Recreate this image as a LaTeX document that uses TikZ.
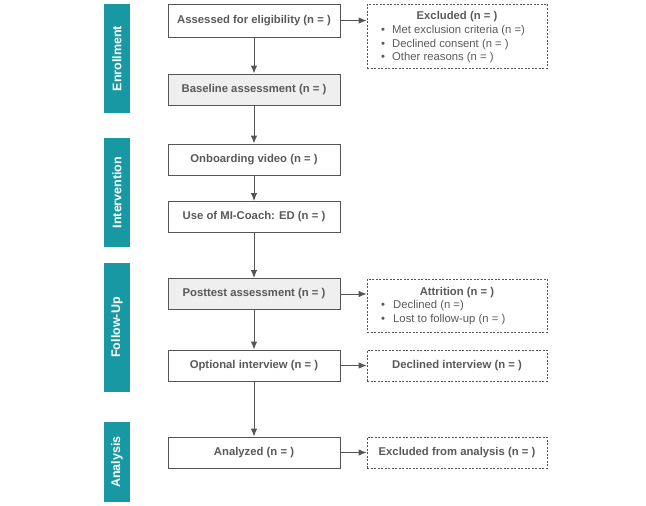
\documentclass[tikz,border=0pt]{standalone}
\usepackage{fontspec}
\setmainfont{Liberation Sans}
\usetikzlibrary{arrows.meta}
\definecolor{teal1}{HTML}{1798A3}
\definecolor{txt}{HTML}{595959}
\definecolor{ln}{HTML}{555555}
\definecolor{gfill}{HTML}{EFEFEF}
\tikzset{
  side/.style={fill=teal1, draw=none, minimum height=26pt, inner sep=0pt, text=white, font=\bfseries\fontsize{12.5}{14}\selectfont, rotate=90},
  mainbox/.style={draw=ln, line width=0.9pt, minimum width=172pt, minimum height=31pt, inner sep=0pt, text=txt, font=\bfseries\fontsize{11.3}{13}\selectfont},
  graybox/.style={mainbox, fill=gfill},
  dbox/.style={draw=ln, dashed, dash pattern=on 2pt off 1.5pt, line width=0.7pt, minimum width=180pt, inner sep=0pt, text=txt, font=\bfseries\fontsize{11.3}{13}\selectfont},
  btxt/.style={inner sep=0pt, anchor=west, text=txt, font=\fontsize{11.3}{13}\selectfont},
  bul/.style={inner sep=0pt, text=txt, font=\fontsize{11.3}{13}\selectfont},
  ttl/.style={inner sep=0pt, text=txt, font=\bfseries\fontsize{11.3}{13}\selectfont},
  arr/.style={draw=ln, line width=1pt, -{Latex[length=8pt,width=6.5pt]}}
}
\begin{document}
\begin{tikzpicture}[x=1pt,y=-1pt]
\useasboundingbox (0,0) rectangle (646,506);
% side bars
\node[side, minimum width=109pt] (s1) at (117,58.5) {Enrollment};
\node[side, minimum width=109pt] (s2) at (117,192.5) {Intervention};
\node[side, minimum width=129pt] (s3) at (117,327.5) {Follow-Up};
\node[side, minimum width=80pt] (s4) at (117,462) {Analysis};
% main boxes
\node[mainbox, minimum height=33pt] (b1) at (254,20.5) {Assessed for eligibility (n = )};
\node[graybox] (b2) at (254,89.5) {Baseline assessment (n = )};
\node[mainbox] (b3) at (254,159.5) {Onboarding video (n = )};
\node[mainbox] (b4) at (254,217) {Use of MI-Coach: ED (n = )};
\node[graybox] (b5) at (254,294) {Posttest assessment (n = )};
\node[mainbox] (b6) at (254,365.5) {Optional interview (n = )};
\node[mainbox] (b7) at (254,452.5) {Analyzed (n = )};
% dashed boxes
\node[dbox, minimum height=64pt] (e1) at (457,36) {};
\node[ttl] (e1t) at (457,16.5) {Excluded (n = )};
\node[bul] (e1b1) at (383,31) {•};
\node[btxt] (e1l1) at (392,31) {Met exclusion criteria (n =)};
\node[bul] (e1b2) at (383,44.5) {•};
\node[btxt] (e1l2) at (392,44.5) {Declined consent (n = )};
\node[bul] (e1b3) at (383,58) {•};
\node[btxt] (e1l3) at (392,58) {Other reasons (n = )};
\node[dbox, minimum height=53pt] (e2) at (457,305.5) {};
\node[ttl] (e2t) at (457,292.5) {Attrition (n = )};
\node[bul] (e2b1) at (383,306) {•};
\node[btxt] (e2l1) at (393,306) {Declined (n =)};
\node[bul] (e2b2) at (383,320) {•};
\node[btxt] (e2l2) at (393,320) {Lost to follow-up (n = )};
\node[dbox, minimum height=31pt] (e3) at (457,365.5) {Declined interview (n = )};
\node[dbox, minimum height=31pt] (e4) at (457,452.5) {Excluded from analysis (n = )};
% vertical arrows
\draw[arr] (b1) -- (b2);
\draw[arr] (b2) -- (b3);
\draw[arr] (b3) -- (b4);
\draw[arr] (b4) -- (b5);
\draw[arr] (b5) -- (b6);
\draw[arr] (b6) -- (b7);
% horizontal arrows
\draw[arr] (b1.east) -- (b1.east -| e1.west);
\draw[arr] (b5.east) -- (b5.east -| e2.west);
\draw[arr] (b6.east) -- (e3.west);
\draw[arr] (b7.east) -- (e4.west);
\end{tikzpicture}
\end{document}
